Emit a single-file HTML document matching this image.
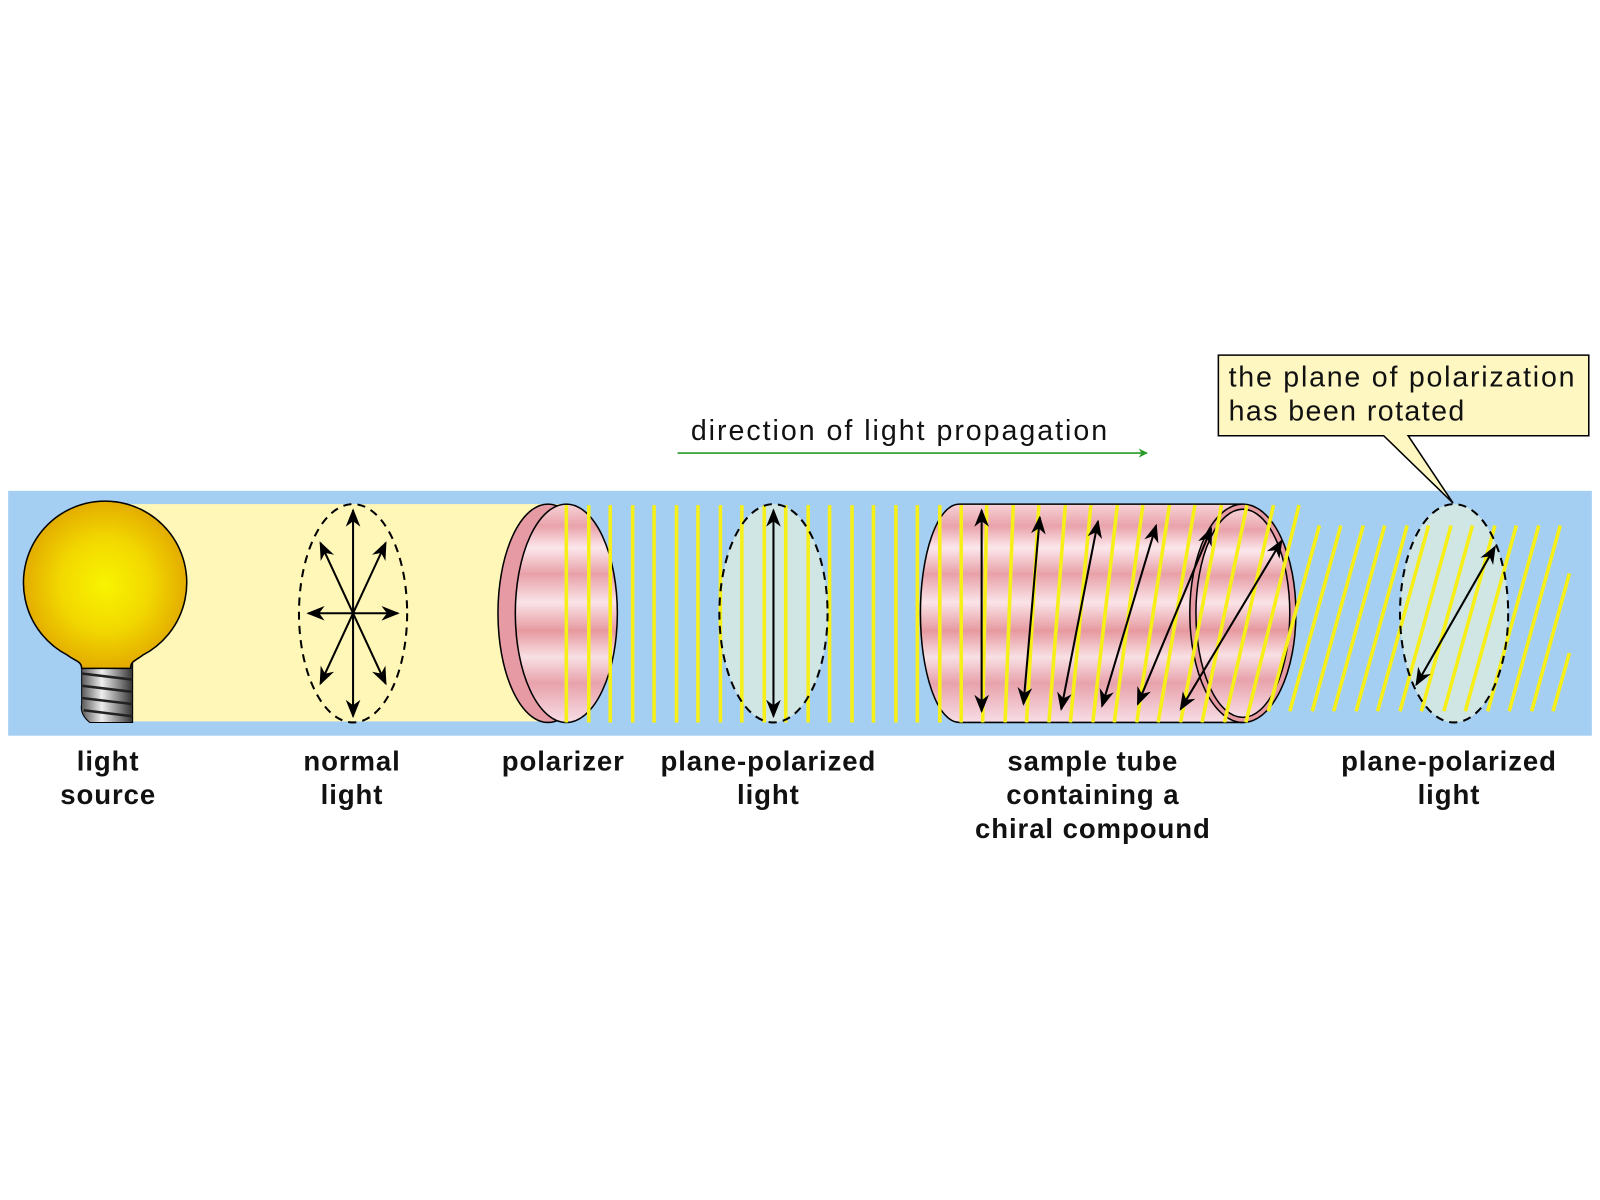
<!DOCTYPE html>
<html><head><meta charset="utf-8"><style>
html,body{margin:0;padding:0;background:#fff}
svg{display:block}
text{font-family:"Liberation Sans",sans-serif}
.lb{font-weight:bold;font-size:27px;letter-spacing:0.9px;text-anchor:middle;fill:#111}
</style></head><body>
<svg width="1600" height="1200" viewBox="0 0 1568 1176" xmlns="http://www.w3.org/2000/svg">
<defs>
<radialGradient id="bulb" cx="0.5" cy="0.5" r="0.55">
<stop offset="0" stop-color="#f8f400"/><stop offset="0.5" stop-color="#f2d800"/><stop offset="1" stop-color="#e0a300"/>
</radialGradient>
<linearGradient id="pink" x1="0" y1="0" x2="0" y2="1">
<stop offset="0" stop-color="#f6d3d8"/><stop offset="0.1" stop-color="#e9a2aa"/><stop offset="0.2" stop-color="#fbe8ec"/><stop offset="0.32" stop-color="#e8a0a8"/><stop offset="0.45" stop-color="#fae4e8"/><stop offset="0.58" stop-color="#e6999f"/><stop offset="0.7" stop-color="#f8e0e4"/><stop offset="0.82" stop-color="#e8a2ab"/><stop offset="1" stop-color="#f7dde6"/>
</linearGradient>
<linearGradient id="base" x1="0" y1="0" x2="1" y2="0">
<stop offset="0" stop-color="#555"/><stop offset="0.4" stop-color="#eee"/><stop offset="1" stop-color="#333"/>
</linearGradient>
<marker id="ah2" viewBox="0 0 10 10" refX="9" refY="5" markerWidth="18" markerHeight="18" markerUnits="userSpaceOnUse" orient="auto-start-reverse"><path d="M0,1 L10,5 L0,9 L3,5z" fill="#000"/></marker>
<marker id="gh" viewBox="0 0 10 10" refX="9" refY="5" markerWidth="6" markerHeight="6" orient="auto"><path d="M0,0 L10,5 L0,10 L3,5z" fill="#2a9a2a"/></marker>
<clipPath id="band"><rect x="8" y="494" width="1532" height="214"/></clipPath>
</defs>
<rect x="8" y="481" width="1552" height="240" fill="#a4cff2"/>
<rect x="100" y="494" width="450" height="213" fill="#fff7b8"/>
<!-- bulb -->
<path d="M80,650 L130,650 L130,708 L88,708 Q78,700 80,690z" fill="url(#base)" stroke="#000" stroke-width="1"/>
<g stroke="#222" stroke-width="2.5" fill="none"><path d="M80,660 L130,666 M80,672 L130,678 M80,684 L130,690 M82,696 L130,702"/></g>
<path d="M80,655 C80,648 74,648 66,642 A80,80 0 1 1 140,642 C132,648 128,648 128,655z" fill="url(#bulb)" stroke="#000" stroke-width="1.5"/>
<!-- normal light -->
<ellipse cx="346" cy="601" rx="53" ry="107" fill="none" stroke="#000" stroke-width="2" stroke-dasharray="8,6"/>
<g stroke="#000" stroke-width="2" marker-start="url(#ah2)" marker-end="url(#ah2)">
<line x1="346" y1="500" x2="346" y2="702"/><line x1="302" y1="601" x2="390" y2="601"/>
<line x1="314" y1="532" x2="378" y2="670"/><line x1="378" y1="532" x2="314" y2="670"/>
</g>
<!-- polarizer -->
<ellipse cx="537" cy="601" rx="49" ry="107" fill="#e69aa3" stroke="#000" stroke-width="1.5"/>
<ellipse cx="555" cy="601" rx="50" ry="107" fill="url(#pink)" stroke="#000" stroke-width="1.5"/>
<ellipse cx="758" cy="601" rx="53" ry="107" fill="#cfe6e4" stroke="none"/>
<!-- tube -->
<path d="M940,494 L1218,494 L1218,708 L940,708 A38,107 0 0 1 940,494z" fill="url(#pink)" stroke="#000" stroke-width="1.5"/>
<ellipse cx="1218" cy="601" rx="52" ry="107" fill="#e69aa3" stroke="#000" stroke-width="1.5"/>
<ellipse cx="1218" cy="601" rx="46" ry="102" fill="url(#pink)" stroke="#000" stroke-width="1.5"/>
<ellipse cx="1425" cy="601" rx="53" ry="107" fill="#cfe6e4"/>
<!-- yellow lines -->
<g stroke="#f7ef18" stroke-width="3.5" clip-path="url(#band)">
<path d="M555,495V708M577,495V708M598,495V708M620,495V708M641,495V708M663,495V708M684,495V708M706,495V708M727,495V708M749,495V708M770,495V708M792,495V708M813,495V708M835,495V708M856,495V708M878,495V708M899,495V708M921,495V708"/>
<path d="M942,708L942,495M963,708L967,495M985,708L993,495M1006,708L1018,495M1028,708L1044,495M1049,708L1069,495M1071,708L1095,495M1092,708L1120,495M1114,708L1146,495M1135,708L1171,495M1157,708L1197,495M1178,708L1222,495M1200,708L1248,495M1221,708L1273,495"/>
<path d="M1243,697L1293,515M1264,697L1314,515M1286,697L1336,515M1307,697L1357,515M1329,697L1379,515M1350,697L1400,515M1372,697L1422,515M1393,697L1443,515M1415,697L1465,515M1436,697L1486,515M1458,697L1508,515M1479,697L1529,515M1501,697L1538,562M1522,697L1538,640"/>
</g>
<ellipse cx="758" cy="601" rx="53" ry="107" fill="none" stroke="#000" stroke-width="2" stroke-dasharray="8,6"/>
<ellipse cx="1425" cy="601" rx="53" ry="107" fill="none" stroke="#000" stroke-width="2" stroke-dasharray="8,6"/>
<g stroke="#000" stroke-width="2" marker-start="url(#ah2)" marker-end="url(#ah2)">
<line x1="758" y1="500" x2="758" y2="702"/>
<line x1="962" y1="697" x2="962" y2="500"/>
<line x1="1003" y1="690" x2="1019" y2="507"/>
<line x1="1040" y1="695" x2="1076" y2="511"/>
<line x1="1080" y1="692" x2="1133" y2="515"/>
<line x1="1115" y1="690" x2="1187" y2="518"/>
<line x1="1157" y1="695" x2="1256" y2="530"/>
<line x1="1388" y1="671" x2="1465" y2="536"/>
</g>
<!-- callout -->
<path d="M1194,348 H1557 V427 H1380 L1424,493 L1356,427 H1194z" fill="#fff7c2" stroke="#000" stroke-width="1.5"/>
<text x="1204" y="379" font-size="28" fill="#111" textLength="339" lengthAdjust="spacing">the plane of polarization</text>
<text x="1204" y="412" font-size="28" fill="#111" textLength="231" lengthAdjust="spacing">has been rotated</text>
<!-- direction arrow -->
<text x="677" y="431" font-size="28" fill="#111" textLength="408" lengthAdjust="spacing">direction of light propagation</text>
<line x1="664" y1="444" x2="1124" y2="444" stroke="#2a9a2a" stroke-width="1.5" marker-end="url(#gh)"/>
<!-- labels -->
<text class="lb" x="106" y="755">light</text><text class="lb" x="106" y="788">source</text>
<text class="lb" x="345" y="755">normal</text><text class="lb" x="345" y="788">light</text>
<text class="lb" x="552" y="755">polarizer</text>
<text class="lb" x="753" y="755">plane-polarized</text><text class="lb" x="753" y="788">light</text>
<text class="lb" x="1071" y="755">sample tube</text><text class="lb" x="1071" y="788">containing a</text><text class="lb" x="1071" y="821">chiral compound</text>
<text class="lb" x="1420" y="755">plane-polarized</text><text class="lb" x="1420" y="788">light</text>
</svg>
</body></html>
